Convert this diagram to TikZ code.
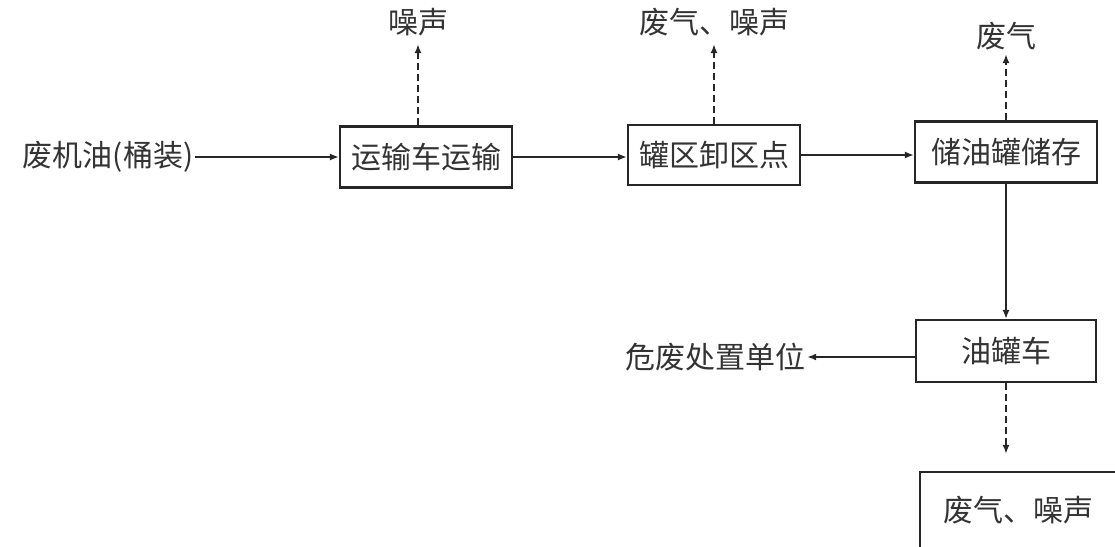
\documentclass[tikz,border=0pt]{standalone}
\usepackage{fontspec}
\setmainfont{Noto Sans CJK SC}
\usetikzlibrary{positioning,arrows.meta}

\begin{document}
\begin{tikzpicture}[x=1pt, y=-1pt, font=\fontsize{30}{34}\selectfont,
    box/.style={draw=black!85, line width=2.2pt, inner sep=0pt, text=black!80},
    lbl/.style={text=black!80, inner sep=2pt},
    flow/.style={draw=black!85, line width=1.6pt, -{Latex[length=9pt,width=7pt]}},
    emit/.style={flow, line width=2pt, dash pattern=on 7pt off 4pt}]
        % Page frame
        \clip (0,0) rectangle (1115,546);

        % Main line of the process
        \node[lbl] (src) at (108,157) {废机油(桶装)};
        \node[box, minimum width=172pt, minimum height=61pt] (truck) at (426,157) {运输车运输};
        \node[box, minimum width=172pt, minimum height=60pt] (unload) at (714,155) {罐区卸区点};
        \node[box, minimum width=182pt, minimum height=61pt] (store) at (1006,152) {储油罐储存};
        \node[box, minimum width=180pt, minimum height=62pt] (tanker) at (1006,351) {油罐车};
        \node[lbl] (dest) at (715,357) {危废处置单位};

        % Emissions
        \node[lbl] (noise1) at (418,22) {噪声};
        \node[lbl] (gas2) at (714,22) {废气、噪声};
        \node[lbl] (gas3) at (1006,36) {废气};
        \node[box, minimum width=196pt, minimum height=76pt] (gas4) at (1018,510) {废气、噪声};

        % Flow arrows
        \draw[flow] (src.east) -- (src.east -| truck.west);
        \draw[flow] (truck.east) -- (truck.east -| unload.west);
        \draw[flow] (unload.east) -- (unload.east -| store.west);
        \draw[flow] (store.south) -- (tanker.north);
        \draw[flow] (tanker.west |- dest) -- (dest.east);

        % Emission arrows
        \draw[emit, shorten >=6pt] (truck.north -| noise1) -- (noise1.south);
        \draw[emit, shorten >=6pt] (unload.north -| gas2) -- (gas2.south);
        \draw[emit, shorten >=2pt] (store.north -| gas3) -- (gas3.south);
        \draw[emit, shorten >=17pt] (tanker.south) -- (tanker.south |- gas4.north);
\end{tikzpicture}
\end{document}
